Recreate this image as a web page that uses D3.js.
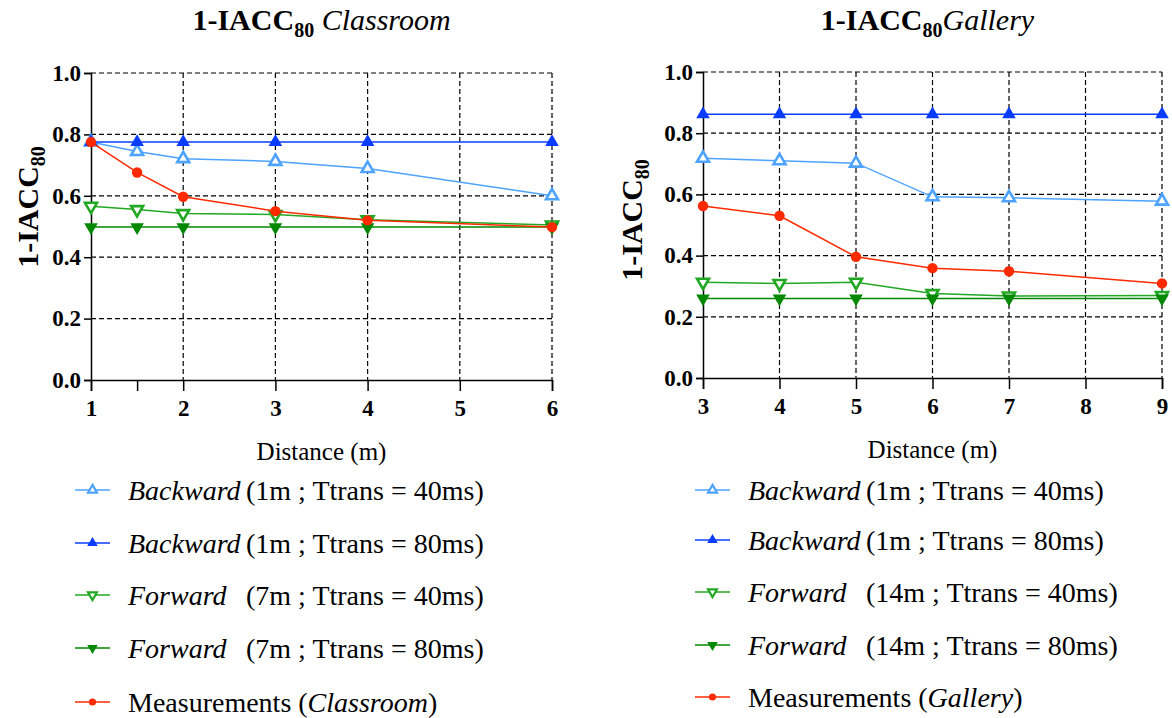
<!DOCTYPE html>
<html>
<head>
<meta charset="utf-8">
<script src="https://cdn.jsdelivr.net/npm/d3@7"></script>
<style>
  body { margin: 0; background: #fff; }
</style>
</head>
<body>
<div id="chart"></div>
<script>
// ---- data ----
const classroomDist   = [1, 1.5, 2, 3, 4, 6]
const classroomBack40 = [0.775, 0.744, 0.721, 0.712, 0.689, 0.600]
const classroomBack80 = [0.775, 0.775, 0.775, 0.775, 0.775, 0.775]
const classroomFwd40  = [0.566, 0.555, 0.542, 0.539, 0.522, 0.505]
const classroomFwd80  = [0.498, 0.498, 0.498, 0.498, 0.498, 0.498]
const classroomMeas   = [0.775, 0.676, 0.597, 0.550, 0.520, 0.498]

const galleryDist   = [3, 4, 5, 6, 7, 9]
const galleryBack40 = [0.718, 0.710, 0.702, 0.592, 0.589, 0.578]
const galleryBack80 = [0.862, 0.862, 0.862, 0.862, 0.862, 0.862]
const galleryFwd40  = [0.313, 0.309, 0.313, 0.276, 0.268, 0.270]
const galleryFwd80  = [0.260, 0.260, 0.260, 0.260, 0.260, 0.260]
const galleryMeas   = [0.562, 0.530, 0.396, 0.359, 0.349, 0.309]

const classroomXTicks = [1, 2, 3, 4, 5, 6]
const classroomMinorTicks = [1.5]
const galleryXTicks = [3, 4, 5, 6, 7, 8, 9]
const yTicks = [0, 0.2, 0.4, 0.6, 0.8, 1.0]

const classroomLegend = [
    {name: "Backward", rest: "(1m ; Ttrans = 40ms)"},
    {name: "Backward", rest: "(1m ; Ttrans = 80ms)"},
    {name: "Forward",  rest: "(7m ; Ttrans = 40ms)"},
    {name: "Forward",  rest: "(7m ; Ttrans = 80ms)"},
    {pre: "Measurements (", name: "Classroom", post: ")"}
]
const galleryLegend = [
    {name: "Backward", rest: "(1m ; Ttrans = 40ms)"},
    {name: "Backward", rest: "(1m ; Ttrans = 80ms)"},
    {name: "Forward",  rest: "(14m ; Ttrans = 40ms)"},
    {name: "Forward",  rest: "(14m ; Ttrans = 80ms)"},
    {pre: "Measurements (", name: "Gallery", post: ")"}
]

// series styles, same order in both panels
const STYLES = [
    {colour: "#4da3ff", shape: "up",     filled: false},
    {colour: "#0a3cff", shape: "up",     filled: true},
    {colour: "#22a822", shape: "down",   filled: false},
    {colour: "#008800", shape: "down",   filled: true},
    {colour: "#ff2a00", shape: "circle", filled: true}
]

const WIDTH = 1172
const HEIGHT = 718
const FONT = "'Liberation Serif'"   // no letter-spacing: it makes the font fall back

const svg = d3.select("#chart").append("svg")
    .attr("width", WIDTH)
    .attr("height", HEIGHT)

function drawMarker(g, style, x, y, size, strokeW) {
    const type = style.shape === "circle" ? d3.symbolCircle : d3.symbolTriangle
    let m = g.append("path")
        .attr("d", d3.symbol().type(type).size(size)())
        .attr("transform", "translate(" + x + "," + y + ")" + (style.shape === "down" ? " rotate(180)" : ""))
    if (style.filled) {
        m.attr("fill", style.colour).attr("stroke", "none")
    } else {
        m.attr("fill", "#fff").attr("stroke", style.colour).attr("stroke-width", strokeW)
    }
}

function addText(g) {
    return g.append("text").style("font-family", FONT).attr("fill", "#000")
}

function drawPanel(p) {
    const g = svg.append("g")

    let xScale = d3.scaleLinear().domain(p.xDomain).range([p.left, p.right])
    let yScale = d3.scaleLinear().domain([0, 1]).range([p.bottom, p.top])

    // dashed grid
    g.selectAll(".vgrid").data(p.xTicks.slice(1)).join("line")
        .attr("x1", d => xScale(d)).attr("x2", d => xScale(d))
        .attr("y1", p.top).attr("y2", p.bottom)
        .attr("stroke", "#000").attr("stroke-width", 1.2).attr("stroke-dasharray", "5,3")
    g.selectAll(".hgrid").data(yTicks.slice(1)).join("line")
        .attr("x1", p.left).attr("x2", p.right)
        .attr("y1", d => yScale(d)).attr("y2", d => yScale(d))
        .attr("stroke", "#000").attr("stroke-width", 1.2).attr("stroke-dasharray", "5,3")

    // axes
    let xAxis = g.append("g")
        .attr("transform", "translate(0," + p.bottom + ")")
        .call(d3.axisBottom(xScale).tickValues(p.xTicks.concat(p.minor)).tickSize(11).tickPadding(9)
            .tickFormat(d => p.minor.includes(d) ? "" : d3.format("d")(d)))
    let yAxis = g.append("g")
        .attr("transform", "translate(" + p.left + ",0)")
        .call(d3.axisLeft(yScale).tickValues(yTicks).tickSize(7).tickPadding(3).tickFormat(d3.format(".1f")))
    ;[xAxis, yAxis].forEach(a => {
        a.attr("font-family", null).attr("font-size", null)
        a.select(".domain").attr("stroke", "#000").attr("stroke-width", 1.5)
        a.selectAll(".tick line").attr("stroke", "#000").attr("stroke-width", 1.5)
        a.selectAll(".tick text")
            .attr("fill", "#000")
            .style("font-family", FONT)
            .style("font-size", "23px")
            .style("font-weight", "bold")
    })

    // series
    let line = d3.line().x(d => xScale(d[0])).y(d => yScale(d[1]))
    p.series.forEach((vals, i) => {
        const st = STYLES[i]
        const pts = p.dist.map((x, j) => [x, vals[j]])
        const sg = g.append("g")
        sg.append("path").datum(pts)
            .attr("d", line)
            .attr("fill", "none")
            .attr("stroke", st.colour)
            .attr("stroke-width", 1.5)
        pts.forEach(d => drawMarker(sg, st, xScale(d[0]), yScale(d[1]), st.shape === "circle" ? 85 : (st.filled ? 80 : 62), 2.6))
    })

    // title
    let t = addText(g)
        .attr("x", (p.left + p.right) / 2 + p.titleDx)
        .attr("y", 30)
        .attr("text-anchor", "middle")
        .style("font-size", "30px")
    t.append("tspan").text("1-IACC").style("font-weight", "bold")
    t.append("tspan").text("80").style("font-weight", "bold").style("font-size", "20px").attr("dy", 7)
    t.append("tspan").text(p.titleGap + p.room).style("font-style", "italic").attr("dy", -7)

    // y axis label
    let yl = addText(g)
        .attr("transform", "translate(" + p.yLabelX + "," + p.yLabelY + ") rotate(-90)")
        .attr("text-anchor", "middle")
        .style("font-size", "30px")
        .style("font-weight", "bold")
    yl.append("tspan").text("1-IACC")
    yl.append("tspan").text("80").style("font-size", "20px").attr("dy", 7)

    // x axis label
    addText(g)
        .attr("x", (p.left + p.right) / 2)
        .attr("y", p.bottom + 80)
        .attr("text-anchor", "middle")
        .style("font-size", "25px")
        .text("Distance (m)")

    // legend
    p.legend.forEach((item, i) => {
        const st = STYLES[i]
        const y = p.legendY[i]
        const lg = g.append("g")
        lg.append("line")
            .attr("x1", p.legendX).attr("x2", p.legendX + 35)
            .attr("y1", y).attr("y2", y)
            .attr("stroke", st.colour).attr("stroke-width", 1.5)
        drawMarker(lg, st, p.legendX + 17.5, y, st.shape === "circle" ? 40 : (st.filled ? 48 : 34), 2.2)
        let tx = addText(lg)
            .attr("x", p.legendX + 53)
            .attr("y", y + 10)
            .style("font-size", "28px")
        if (item.rest) {
            tx.append("tspan").text(item.name).style("font-style", "italic")
            tx.append("tspan").attr("x", p.legendX + 171).text(item.rest)
        } else {
            tx.append("tspan").text(item.pre)
            tx.append("tspan").text(item.name).style("font-style", "italic")
            tx.append("tspan").text(item.post)
        }
    })
}

drawPanel({
    left: 91, right: 552, top: 73, bottom: 380,
    xDomain: [1, 6], xTicks: classroomXTicks, minor: classroomMinorTicks,
    dist: classroomDist,
    series: [classroomBack40, classroomBack80, classroomFwd40, classroomFwd80, classroomMeas],
    room: "Classroom", titleGap: " ", titleDx: 0,
    yLabelX: 38, yLabelY: 207,
    legend: classroomLegend, legendX: 75, legendY: [490, 543, 595, 648, 702]
})

drawPanel({
    left: 703, right: 1162, top: 72, bottom: 378,
    xDomain: [3, 9], xTicks: galleryXTicks, minor: [],
    dist: galleryDist,
    series: [galleryBack40, galleryBack80, galleryFwd40, galleryFwd80, galleryMeas],
    room: "Gallery", titleGap: "", titleDx: -5,
    yLabelX: 642, yLabelY: 220,
    legend: galleryLegend, legendX: 695, legendY: [490, 540, 592, 645, 697]
})
</script>
</body>
</html>
